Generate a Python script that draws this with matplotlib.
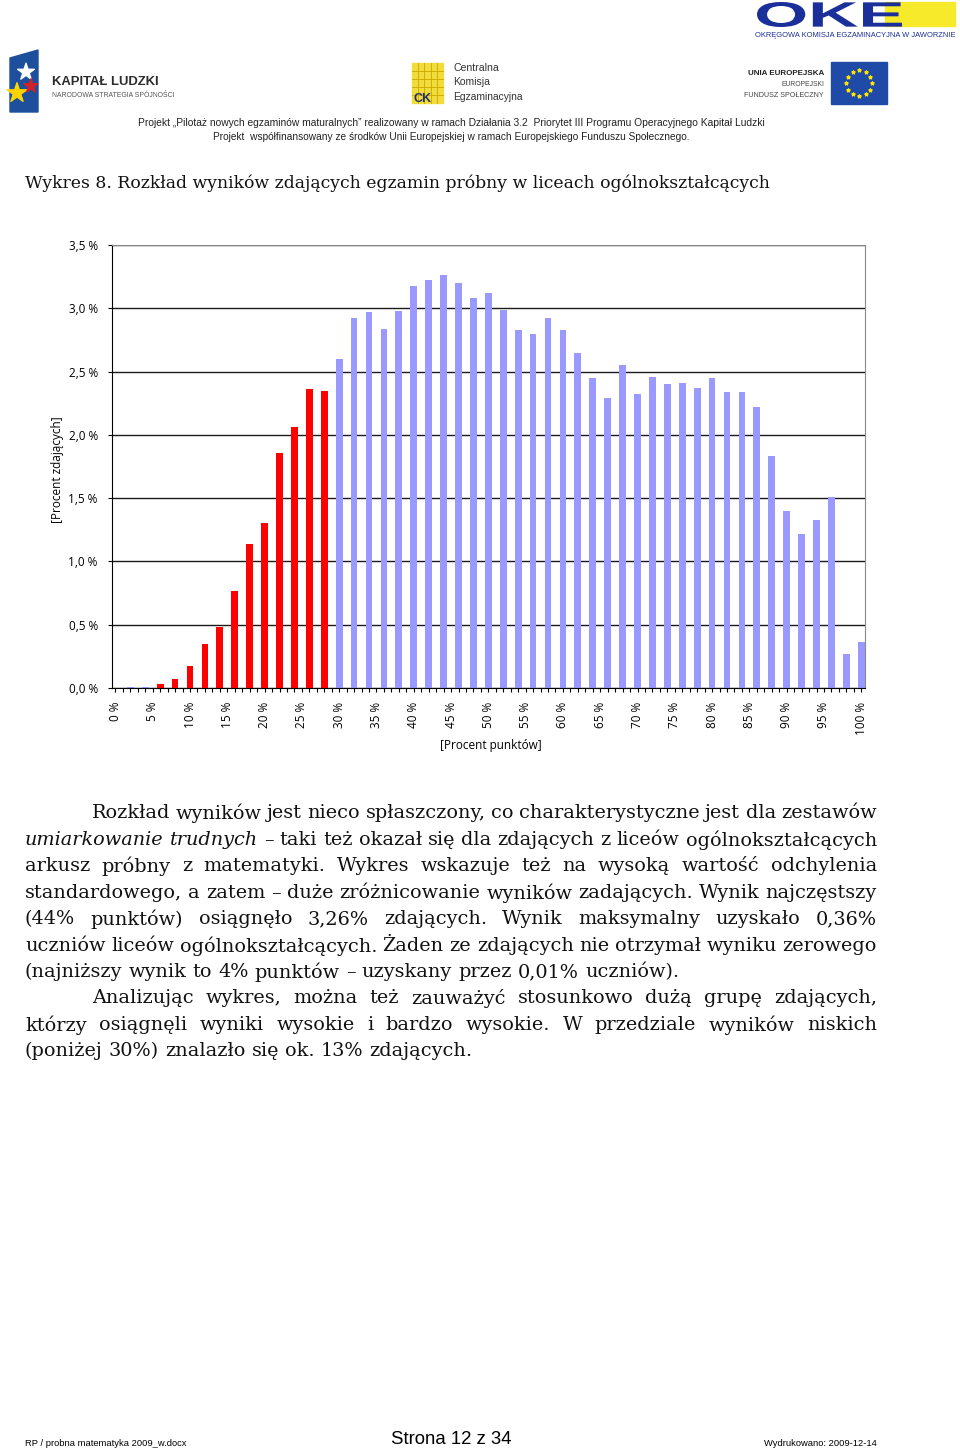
import numpy as np
import matplotlib

matplotlib.use("Agg")
import matplotlib.pyplot as plt
from matplotlib.textpath import TextPath
from matplotlib.patches import PathPatch
from matplotlib.font_manager import FontProperties
from matplotlib.transforms import Affine2D

# wyniki w % punktów (co 2%) i odsetek zdających w %
score = np.arange(0, 101, 2)
share = [0.00, 0.01, 0.01,
         0.03, 0.07, 0.17, 0.35, 0.48, 0.77, 1.14, 1.30, 1.86, 2.06, 2.36, 2.35,
         2.60, 2.92, 2.97, 2.84, 2.98, 3.18, 3.22, 3.26, 3.20, 3.08, 3.12, 2.99,
         2.83, 2.80, 2.92, 2.83, 2.65, 2.45,
         2.29, 2.55, 2.32, 2.46, 2.40, 2.41, 2.37, 2.45, 2.34, 2.34, 2.22, 1.83,
         1.40, 1.22, 1.33, 1.51, 0.27, 0.36]
red_range = (6, 28)
xticks = np.arange(0, 101, 5)
yticks = np.arange(0, 3.51, 0.5)

title = "Wykres 8. Rozkład wyników zdających egzamin próbny w liceach ogólnokształcących"
para = [
    "Rozkład wyników jest nieco spłaszczony, co charakterystyczne jest dla zestawów",
    "_umiarkowanie _trudnych – taki też okazał się dla zdających z liceów ogólnokształcących",
    "arkusz próbny z matematyki. Wykres wskazuje też na wysoką wartość odchylenia",
    "standardowego, a zatem – duże zróżnicowanie wyników zadających. Wynik najczęstszy",
    "(44% punktów) osiągnęło 3,26% zdających. Wynik maksymalny uzyskało 0,36%",
    "uczniów liceów ogólnokształcących. Żaden ze zdających nie otrzymał wyniku zerowego",
    "(najniższy wynik to 4% punktów – uzyskany przez 0,01% uczniów).",
    "Analizując wykres, można też zauważyć stosunkowo dużą grupę zdających,",
    "którzy osiągnęli wyniki wysokie i bardzo wysokie. W przedziale wyników niskich",
    "(poniżej 30%) znalazło się ok. 13% zdających.",
]
indent = {0, 7}
last = {6, 9}

RED = "#ff0000"
LAV = "#9999ff"
SERIF = "DejaVu Serif"
SANS = "Open Sans"

fig = plt.figure(figsize=(9.6, 14.5), dpi=100)
page = fig.add_axes([0, 0, 1, 1])
page.set_xlim(0, 960)
page.set_ylim(1450, 0)
page.axis("off")
renderer = fig.canvas.get_renderer()


def fit(x, y, s, width, ha="left", **kw):
    t = page.text(x, y, s, fontsize=10, ha=ha, va="center", **kw)
    w = t.get_window_extent(renderer).width
    t.set_fontsize(10 * width / w)
    return t


def boxed(s, x0, y0, x1, y1, color, **font):
    # napis rozciągnięty do prostokąta (y w dół)
    tp = TextPath((0, 0), s, size=10, prop=FontProperties(**font))
    bb = tp.get_extents()
    tr = (Affine2D().translate(-bb.x0, -bb.y0)
          .scale((x1 - x0) / bb.width, -(y1 - y0) / bb.height).translate(x0, y1))
    page.add_patch(PathPatch(tr.transform_path(tp), color=color, lw=0, zorder=3))


# --- nagłówek z logotypami (uproszczone) ---
page.add_patch(plt.Polygon([[10, 58], [38, 50], [38, 112], [10, 112]], color="#1d4f9c"))
page.scatter([26, 17, 31], [72, 93, 86], s=[160, 220, 110], marker="*",
             c=["white", "#ffd400", "#d0202a"], zorder=3)
fit(52, 82, "KAPITAŁ LUDZKI", 106, family="Liberation Sans", weight="bold", color="#2b2b2b")
fit(52, 95, "NARODOWA STRATEGIA SPÓJNOŚCI", 122, family="Liberation Sans", color="#555555")

page.add_patch(plt.Rectangle((412, 63), 31, 40, color="#f2dc3c"))
for k in range(1, 5):
    page.plot([412 + k * 6.2, 412 + k * 6.2], [63, 103], color="#c9a800", lw=0.6)
    page.plot([412, 443], [63 + k * 8, 63 + k * 8], color="#c9a800", lw=0.6)
fit(414, 99, "CK", 18, family="Liberation Sans", weight="bold", color="#1f2f6b")
fit(453, 68, "Centralna", 46, family="Liberation Sans", color="#333333")
fit(453, 82, "Komisja", 37, family="Liberation Sans", color="#333333")
fit(453, 97, "Egzaminacyjna", 70, family="Liberation Sans", color="#333333")

page.add_patch(plt.Rectangle((885, 2), 70, 24, color="#f7ea2a"))
boxed("OKE", 757, 2, 902, 27, "#1a2f99", family="Liberation Sans", weight="bold")
fit(755, 35, "OKRĘGOWA KOMISJA EGZAMINACYJNA W JAWORZNIE", 200,
    family="Liberation Sans", color="#1a2f99")

fit(824, 73, "UNIA EUROPEJSKA", 76, ha="right", family="Liberation Sans",
    weight="bold", color="#222222")
fit(824, 84, "EUROPEJSKI", 43, ha="right", family="Liberation Sans", color="#444444")
fit(824, 95, "FUNDUSZ SPOŁECZNY", 80, ha="right", family="Liberation Sans", color="#444444")
page.add_patch(plt.Rectangle((831, 62), 56, 42, color="#1f4aa8"))
ang = np.linspace(0, 2 * np.pi, 13)[:-1]
page.scatter(859 + 13 * np.cos(ang), 83 + 13 * np.sin(ang), s=6, marker="*",
             c="#ffe600", zorder=3)

fit(451, 123, "Projekt „Pilotaż nowych egzaminów maturalnych” realizowany w ramach "
    "Działania 3.2  Priorytet III Programu Operacyjnego Kapitał Ludzki", 632,
    ha="center", family="Liberation Sans", color="#222222")
fit(451, 137, "Projekt  współfinansowany ze środków Unii Europejskiej w ramach "
    "Europejskiego Funduszu Społecznego.", 481,
    ha="center", family="Liberation Sans", color="#222222")

fit(25, 183, title, 751, family=SERIF, color="#111111")

# --- wykres ---
ax = fig.add_axes([111.7 / 960, 1 - 688 / 1450, (865 - 111.7) / 960, (688 - 245) / 1450])
colors = [RED if red_range[0] <= s <= red_range[1] else LAV for s in score]
ax.bar(score, share, width=0.9, color=colors, zorder=2)
ax.set_xlim(-0.5, 100.5)
ax.set_ylim(0, 3.5)
ax.set_axisbelow(True)
ax.yaxis.grid(True, color="#1a1a1a", lw=1.0)
ax.set_yticks(yticks)
ax.set_yticklabels([f"{v:.1f} %".replace(".", ",") for v in yticks],
                   fontsize=8.5, family=SANS)
ax.set_xticks(xticks)
ax.set_xticks(np.arange(0, 101), minor=True)
ax.set_xticklabels([f"{v} %" for v in xticks], rotation=90, fontsize=8.5, family=SANS)
ax.tick_params(axis="both", which="both", direction="out", length=3, width=0.8,
               color="black")
ax.tick_params(axis="x", which="major", pad=7)
ax.tick_params(axis="y", pad=7)
for side in ("top", "right"):
    ax.spines[side].set_color("#8a8a8a")
for side in ("left", "bottom"):
    ax.spines[side].set_color("black")

page.text(57, 470, "[Procent zdających]", rotation=90, ha="center", va="center",
          fontsize=8.5, family=SANS)
page.text(491, 745, "[Procent punktów]", ha="center", va="center",
          fontsize=8.5, family=SANS)

# --- tekst akapitu (wyjustowany) ---
probe = page.text(0, 0, para[6], fontsize=10, family=SERIF)
body = 10 * 652 / probe.get_window_extent(renderer).width
probe.remove()
space = 0.318 * body * 100 / 72

x_left, x_right = 25, 877
line_y = [813, 840, 866, 893, 919, 946, 972, 998, 1025, 1051]
for i, (line, y) in enumerate(zip(para, line_y)):
    x0 = 92 if i in indent else x_left
    arts, widths = [], []
    for w in line.split(" "):
        style = "normal"
        if w.startswith("_"):
            w, style = w[1:], "italic"
        t = page.text(0, y, w, fontsize=body, family=SERIF, style=style,
                      va="center", color="#111111")
        arts.append(t)
        widths.append(t.get_window_extent(renderer).width)
    if i in last:
        gap = space
    else:
        gap = (x_right - x0 - sum(widths)) / (len(widths) - 1)
    x = x0
    for t, wd in zip(arts, widths):
        t.set_x(x)
        x += wd + gap

# --- stopka ---
fit(25, 1443, "RP / probna matematyka 2009_w.docx", 162, family="Liberation Sans")
fit(451, 1440, "Strona 12 z 34", 122, ha="center", family="Liberation Sans")
fit(877, 1443, "Wydrukowano: 2009-12-14", 113, ha="right", family="Liberation Sans")

fig.savefig("out.png", dpi=100)
